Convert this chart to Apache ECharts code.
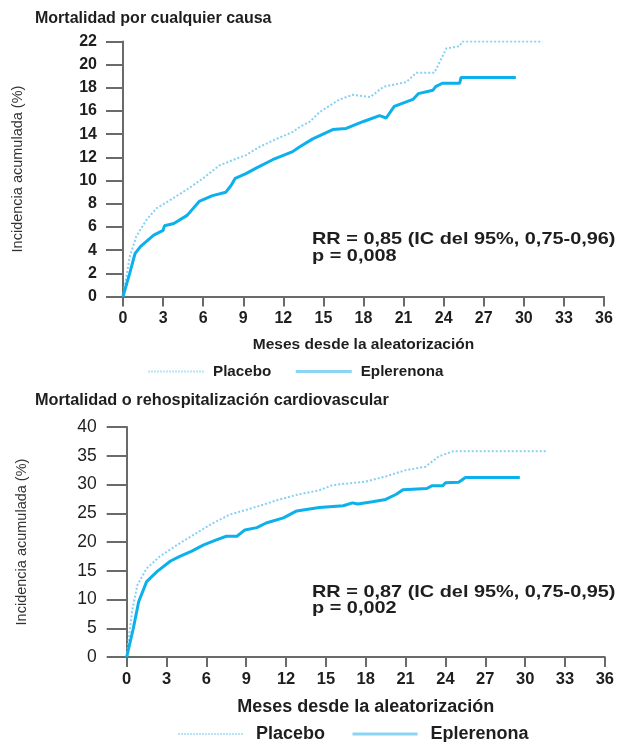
<!DOCTYPE html>
<html>
<head>
<meta charset="utf-8">
<script src="https://cdn.jsdelivr.net/npm/echarts@6/dist/echarts.min.js"></script>
<style>
  html, body { margin: 0; padding: 0; background: #fff; }
  #chart { width: 617px; height: 742px; }
</style>
</head>
<body>
<div id="chart"></div>
<script>
// ejes
const monthTicks = [0, 3, 6, 9, 12, 15, 18, 21, 24, 27, 30, 33, 36]

// Mortalidad por cualquier causa
const placeboAllMonths = [0, 0.5, 1.0, 1.75, 2.5, 3.5, 4.75, 6.0, 7.2, 8.5, 9.2, 10.2, 11.5, 12.7, 13.2, 14.0, 14.7, 16.2, 17.2, 18.5, 19.5, 21.2, 21.95, 23.3, 24.2, 25.2, 25.4, 31.4]
const placeboAllValues = [0, 3.4, 5.2, 6.6, 7.6, 8.3, 9.2, 10.2, 11.3, 11.9, 12.2, 12.9, 13.6, 14.2, 14.6, 15.1, 15.9, 17.0, 17.4, 17.2, 18.1, 18.5, 19.3, 19.3, 21.4, 21.6, 22.0, 22.0]
const eplerAllMonths = [0, 0.5, 0.9, 1.3, 2.3, 3.0, 3.1, 3.8, 4.8, 5.7, 6.7, 7.7, 8.1, 8.4, 9.2, 10.0, 11.2, 12.7, 13.2, 14.2, 15.7, 16.7, 18.0, 19.2, 19.7, 20.3, 21.7, 22.1, 23.2, 23.4, 23.9, 25.2, 25.3, 29.4]
const eplerAllValues = [0, 2.0, 3.7, 4.3, 5.3, 5.7, 6.1, 6.3, 7.0, 8.2, 8.7, 9.0, 9.6, 10.2, 10.6, 11.1, 11.8, 12.5, 12.9, 13.6, 14.4, 14.5, 15.1, 15.6, 15.4, 16.4, 17.0, 17.5, 17.8, 18.1, 18.4, 18.4, 18.9, 18.9]

// Mortalidad o rehospitalización cardiovascular
const placeboCvMonths = [0, 0.4, 0.8, 1.5, 2.5, 3.8, 5.0, 6.5, 7.8, 9.0, 10.3, 11.5, 12.8, 14.5, 15.5, 18.0, 19.5, 21.0, 22.5, 23.5, 24.6, 31.7]
const placeboCvValues = [0, 7.9, 12.5, 15.4, 17.5, 19.5, 21.2, 23.3, 24.8, 25.6, 26.5, 27.4, 28.2, 29.0, 29.9, 30.5, 31.4, 32.5, 33.1, 34.9, 35.8, 35.8]
const eplerCvMonths = [0, 0.5, 0.9, 1.5, 2.3, 3.3, 4.0, 4.9, 5.8, 6.8, 7.5, 8.3, 8.9, 9.8, 10.5, 11.8, 12.8, 14.5, 16.3, 17.0, 17.4, 18.5, 19.5, 20.3, 20.8, 22.6, 23.0, 23.8, 24.0, 25.0, 25.5, 29.6]
const eplerCvValues = [0, 5.0, 9.6, 13.1, 14.9, 16.7, 17.5, 18.4, 19.5, 20.4, 21.0, 21.0, 22.1, 22.5, 23.3, 24.2, 25.4, 26.0, 26.3, 26.8, 26.6, 27.0, 27.4, 28.3, 29.1, 29.3, 29.8, 29.8, 30.3, 30.4, 31.2, 31.2]

const seriesNames = ['Placebo', 'Eplerenona']

const FONT = 'Liberation Sans, Arial, sans-serif'
const TEXT = '#1e1e1e'
const AXIS = '#6a6a6a'
const SOLID = '#0cb0ec'
const DOTTED = '#86d0f3'

const zip = (xs, ys) => xs.map((x, i) => [x, ys[i]])

const xAxisFor = (gridIndex, fontSize) => ({
  type: 'value',
  gridIndex,
  min: 0,
  max: 36,
  interval: 3,
  name: 'Meses desde la aleatorización',
  nameLocation: 'middle',
  nameGap: gridIndex === 0 ? 40 : 41,
  nameTextStyle: {
    fontFamily: FONT,
    fontWeight: 'bold',
    fontSize: gridIndex === 0 ? 15.5 : 18,
    color: TEXT
  },
  splitLine: { show: false },
  axisLine: { show: true, lineStyle: { color: AXIS, width: 2 } },
  axisTick: { show: true, length: 10, lineStyle: { color: AXIS, width: 2 } },
  axisLabel: {
    margin: 14,
    fontFamily: FONT,
    fontWeight: 'bold',
    fontSize,
    color: TEXT,
    customValues: monthTicks
  }
})

const yAxisFor = (gridIndex, max, interval, opts) => ({
  type: 'value',
  gridIndex,
  min: 0,
  max,
  interval,
  name: 'Incidencia acumulada (%)',
  nameLocation: 'middle',
  nameRotate: 90,
  nameGap: opts.nameGap,
  nameTextStyle: {
    fontFamily: FONT,
    fontSize: 14.5,
    color: '#333'
  },
  splitLine: { show: false },
  axisLine: { show: true, lineStyle: { color: AXIS, width: 2 } },
  axisTick: { show: true, length: opts.tickLen, lineStyle: { color: AXIS, width: 2 } },
  axisLabel: {
    margin: opts.margin,
    fontFamily: FONT,
    fontWeight: opts.weight,
    fontSize: opts.fontSize,
    color: TEXT
  }
})

const lineSeries = (name, data, xAxisIndex, yAxisIndex) => ({
  name,
  type: 'line',
  xAxisIndex,
  yAxisIndex,
  data,
  symbol: 'none',
  silent: true,
  lineStyle: name === 'Placebo'
    ? { color: DOTTED, width: 2, type: [2, 2] }
    : { color: SOLID, width: 3 },
  itemStyle: { color: name === 'Placebo' ? DOTTED : SOLID },
  z: name === 'Placebo' ? 2 : 3
})

// leyenda: solo la línea, sin símbolo
const legendFor = (opts) => ({
  left: opts.left,
  top: opts.top,
  itemWidth: opts.itemWidth,
  itemHeight: 12,
  itemGap: opts.itemGap,
  padding: 0,
  itemStyle: { opacity: 0 },
  data: [
    { name: 'Placebo', lineStyle: { color: '#b5e3f8', width: 2, type: [2, 1] } },
    { name: 'Eplerenona', lineStyle: { color: '#8ad4f4', width: 3, type: 'solid' } }
  ],
  textStyle: {
    fontFamily: FONT,
    fontWeight: 'bold',
    fontSize: opts.fontSize,
    color: TEXT,
    padding: [0, 0, 0, opts.textPad]
  }
})

const statText = (x, y, text) => ({
  type: 'text',
  x,
  y,
  scaleX: 1.17,
  style: {
    text,
    font: 'bold 17px ' + FONT,
    fill: TEXT,
    verticalAlign: 'middle'
  }
})

const option = {
  animation: false,
  backgroundColor: '#fff',
  title: [
    {
      text: 'Mortalidad por cualquier causa',
      left: 35,
      top: 11,
      padding: 0,
      textStyle: { fontFamily: FONT, fontWeight: 'bold', fontSize: 16, color: TEXT }
    },
    {
      text: 'Mortalidad o rehospitalización cardiovascular',
      left: 35,
      top: 393,
      padding: 0,
      textStyle: { fontFamily: FONT, fontWeight: 'bold', fontSize: 16.3, color: TEXT }
    }
  ],
  grid: [
    { left: 123, right: 13, top: 41.5, bottom: 445.5 },
    { left: 126.7, right: 10.3, top: 427, bottom: 85 }
  ],
  xAxis: [xAxisFor(0, 16), xAxisFor(1, 16.5)],
  yAxis: [
    yAxisFor(0, 22, 2, { nameGap: 98, tickLen: 17, margin: 26, weight: 'bold', fontSize: 16 }),
    yAxisFor(1, 40, 5, { nameGap: 97, tickLen: 20, margin: 30, weight: 'normal', fontSize: 17.5 })
  ],
  legend: [
    legendFor({ left: 147, top: 364, itemWidth: 56, itemGap: 23, fontSize: 15.2, textPad: 4 }),
    legendFor({ left: 177, top: 725, itemWidth: 65, itemGap: 26, fontSize: 18, textPad: 8 })
  ],
  series: [
    lineSeries(seriesNames[0], zip(placeboAllMonths, placeboAllValues), 0, 0),
    lineSeries(seriesNames[1], zip(eplerAllMonths, eplerAllValues), 0, 0),
    lineSeries(seriesNames[0], zip(placeboCvMonths, placeboCvValues), 1, 1),
    lineSeries(seriesNames[1], zip(eplerCvMonths, eplerCvValues), 1, 1)
  ],
  graphic: [
    statText(312, 239, 'RR = 0,85 (IC del 95%, 0,75-0,96)'),
    statText(312, 256, 'p = 0,008'),
    statText(312, 592, 'RR = 0,87 (IC del 95%, 0,75-0,95)'),
    statText(312, 608, 'p = 0,002')
  ]
}

const chart = echarts.init(document.getElementById('chart'), null, { renderer: 'canvas' })
chart.setOption(option)
</script>
</body>
</html>
